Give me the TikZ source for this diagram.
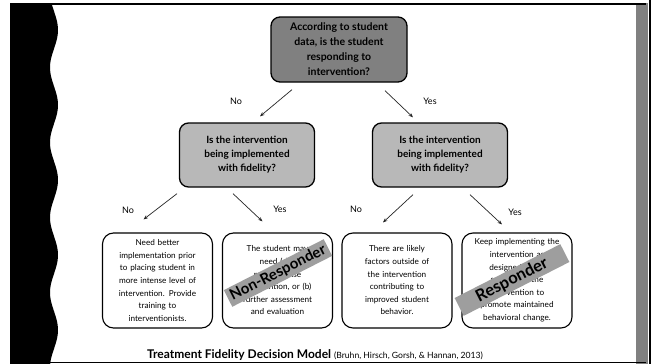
\documentclass[tikz,border=0pt]{standalone}
\usepackage{fontspec}
\setmainfont{Lato}
\usetikzlibrary{calc,arrows.meta}
\begin{document}
\begin{tikzpicture}[x=1pt,y=-1pt,
  qbox/.style={draw=black, line width=1.3pt, rounded corners=9pt, align=center,
    font=\bfseries\fontsize{10}{14}\selectfont, inner sep=2pt},
  abox/.style={draw=black, line width=1.1pt, rounded corners=11pt, fill=white, align=center,
    font=\fontsize{8.2}{12.6}\selectfont, minimum width=110pt, minimum height=95pt,
    text width=104pt, inner sep=0pt},
  arr/.style={-{Stealth[length=4.5pt,width=3.5pt]}, line width=0.7pt, black!85},
  lbl/.style={font=\fontsize{9}{10}\selectfont},
  stamp/.style={rotate=27, fill=black!38, text=black, font=\bfseries\fontsize{15}{15}\selectfont,
    inner ysep=2.5pt}
]
\useasboundingbox (0,0) rectangle (651,364);
\fill[white] (0,0) rectangle (651,364);

% left wavy black strip
\fill[black] (10,3) -- plot[domain=3:364, samples=120, smooth]
  ({54+4*cos(4.8*(\x-30))}, {\x}) -- (10,364) -- cycle;
% right strip
\fill[black!50] (636,3) rectangle (648,364);
\draw[line width=1.6pt] (649.8,0) -- (649.8,364);
% frame lines
\draw[line width=2pt] (10,4) -- (646,4);
\draw[line width=1.2pt] (10,362.5) -- (646,362.5);

% question boxes
\node[qbox, fill=black!50, minimum width=136pt, minimum height=65pt,
  font=\bfseries\fontsize{10.5}{15}\selectfont] (top) at (339,49.5)
  {According to student\\data, is the student\\responding to\\intervention?};
\node[qbox, fill=black!28, minimum width=135pt, minimum height=64pt] (ml) at (247,155)
  {Is the intervention\\being implemented\\with fidelity?};
\node[qbox, fill=black!28, minimum width=135pt, minimum height=64pt] (mr) at (440,155)
  {Is the intervention\\being implemented\\with fidelity?};

% answer boxes
\node[abox] (b1) at (157.5,280.5)
  {Need better\\implementation prior\\to placing student in\\more intense level of\\intervention. Provide\\training to\\interventionists.};
\node[abox] (b2) at (277.5,280.5)
  {The student may\\need (a) a\\more intense\\intervention, or (b)\\further assessment\\and evaluation};
\node[abox] (b3) at (397,280.5)
  {There are likely\\factors outside of\\the intervention\\contributing to\\improved student\\behavior.};
\node[abox] (b4) at (517,280.5)
  {Keep implementing the\\intervention as\\designed. Fade\\support of the\\intervention to\\promote maintained\\behavioral change.};

% arrow end points
\coordinate (t1) at ($(top.south)+(-47,7)$);
\coordinate (t2) at ($(top.south)+(46,8)$);
\coordinate (m1) at ($(ml.north)+(13,-6)$);
\coordinate (m2) at ($(mr.north)+(-27,-5)$);
\coordinate (l1) at ($(ml.south)+(-70,6)$);
\coordinate (l2) at ($(ml.south)+(-14,6)$);
\coordinate (r1) at ($(mr.south)+(-27,7)$);
\coordinate (r2) at ($(mr.south)+(30,7)$);
\coordinate (e1) at ($(b1.north)+(-14,-13)$);
\coordinate (e2) at ($(b2.north)+(-15,-11)$);
\coordinate (e3) at ($(b3.north)+(-14,-10)$);
\coordinate (e4) at ($(b4.north)+(-15,-8)$);

\draw[arr] (t1) -- (m1);
\draw[arr] (t2) -- (m2);
\draw[arr] (l1) -- (e1);
\draw[arr] (l2) -- (e2);
\draw[arr] (r1) -- (e3);
\draw[arr] (r2) -- (e4);

\node[lbl] (n0) at (236,101) {No};
\node[lbl] (y0) at (430,101) {Yes};
\node[lbl] (n1) at (128,210) {No};
\node[lbl] (y1) at (280,209) {Yes};
\node[lbl] (n2) at (356,209) {No};
\node[lbl] (y2) at (515,212) {Yes};

% stamps
\node[stamp] (nr) at (278,273) {Non-Responder};
\node[stamp, inner xsep=20pt, font=\bfseries\fontsize{16.5}{16.5}\selectfont] (rs) at (512,280) {Responder};

% title
\node[anchor=base west, inner sep=0pt] (title) at (147,358)
  {\bfseries\fontsize{12}{14}\selectfont Treatment Fidelity Decision Model\ \mdseries\fontsize{8.6}{10}\selectfont(Bruhn, Hirsch, Gorsh, \& Hannan, 2013)};
\end{tikzpicture}
\end{document}
